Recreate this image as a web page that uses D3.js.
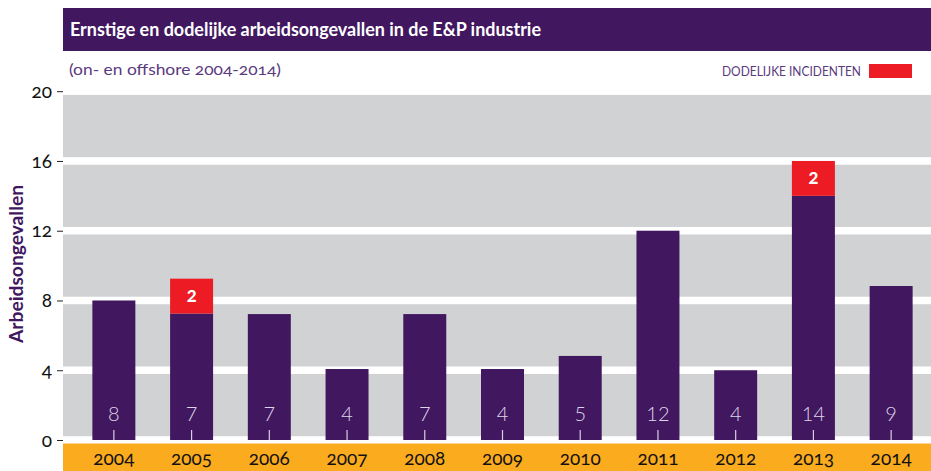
<!DOCTYPE html>
<html>
<head>
<meta charset="utf-8">
<script src="https://cdn.jsdelivr.net/npm/d3@7"></script>
<style>
  body { margin: 0; background: #fff; }
  svg { display: block; font-family: Lato, "Open Sans", sans-serif; }
  .num { font-variant-numeric: oldstyle-nums; font-feature-settings: "onum"; }
</style>
</head>
<body>
<svg id="chart" width="931" height="471"></svg>
<script>
// data
var years    = ["2004","2005","2006","2007","2008","2009","2010","2011","2012","2013","2014"];
var ernstig  = [8, 7.25, 7.22, 4.07, 7.22, 4.07, 4.82, 12, 4, 14, 8.83];   // bar height (purple)
var labels   = ["8","7","7","4","7","4","5","12","4","14","9"];          // printed number in bar
var dodelijk = [0, 2, 0, 0, 0, 0, 0, 0, 0, 2, 0];                         // red part
var yTicks   = [0, 4, 8, 12, 16, 20];

var purple = "#41175f", red = "#ed1c24", grey = "#d1d2d4", orange = "#fbab1e";

const svg = d3.select("#chart"),
      left = 63, right = 931,
      x = d3.scaleBand().domain(years).range([75, 930]).paddingInner(0.447).paddingOuter(0.2235),
      y = d3.scaleLinear().domain([0, 20]).range([440, 91.2]);

var data = years.map(function(d, i){
    return {year: d, ernstig: ernstig[i], label: labels[i], dodelijk: dodelijk[i]};
});

// title bar
svg.append("rect").attr("x", left).attr("y", 8).attr("width", right - left).attr("height", 43).attr("fill", purple);
svg.append("text")
    .attr("x", 70).attr("y", 36)
    .attr("fill", "#fff").style("font-size", "18px").style("font-weight", "bold")
    .attr("textLength", 471).attr("lengthAdjust", "spacingAndGlyphs")
    .text("Ernstige en dodelijke arbeidsongevallen in de E&P industrie");

// subtitle
svg.append("text")
    .attr("x", 69).attr("y", 75).attr("class", "num")
    .attr("fill", "#5a3a7e").style("font-size", "16px")
    .attr("textLength", 212).attr("lengthAdjust", "spacingAndGlyphs")
    .text("(on- en offshore 2004-2014)");

// legend
svg.append("text")
    .attr("x", 861).attr("y", 76).attr("text-anchor", "end")
    .attr("fill", "#5a3a7e").style("font-size", "12.5px")
    .attr("textLength", 139).attr("lengthAdjust", "spacingAndGlyphs")
    .text("DODELIJKE INCIDENTEN");
svg.append("rect").attr("x", 869).attr("y", 64).attr("width", 43).attr("height", 14).attr("fill", red);

// plot background with white grid stripes
svg.append("rect").attr("x", left).attr("y", y(20)).attr("width", right - left).attr("height", y(0) - y(20)).attr("fill", grey);
svg.selectAll(".stripe")
  .data(yTicks)
  .enter().append("rect")
    .attr("class", "stripe")
    .attr("x", left).attr("width", right - left)
    .attr("y", d => y(d) - 3.75).attr("height", 7.5)
    .attr("fill", "#fff");

// orange band for the years
svg.append("rect").attr("x", left).attr("y", y(0) + 3.5).attr("width", right - left).attr("height", 471 - y(0) - 3.5).attr("fill", orange);

// bars
svg.selectAll(".bar")
  .data(data)
  .enter().append("rect")
    .attr("class", "bar")
    .attr("x", d => x(d.year))
    .attr("y", d => y(d.ernstig))
    .attr("width", x.bandwidth())
    .attr("height", d => y(0) - y(d.ernstig))
    .attr("fill", purple);

var dead = data.filter(d => d.dodelijk > 0);
svg.selectAll(".dead")
  .data(dead)
  .enter().append("rect")
    .attr("class", "dead")
    .attr("x", d => x(d.year))
    .attr("y", d => y(d.ernstig + d.dodelijk))
    .attr("width", x.bandwidth())
    .attr("height", d => y(d.ernstig) - y(d.ernstig + d.dodelijk))
    .attr("fill", red);
svg.selectAll(".deadlabel")
  .data(dead)
  .enter().append("text")
    .attr("class", "deadlabel")
    .attr("x", d => x(d.year) + x.bandwidth() / 2)
    .attr("y", d => (y(d.ernstig) + y(d.ernstig + d.dodelijk)) / 2 + 6)
    .attr("text-anchor", "middle").attr("fill", "#fff")
    .style("font-size", "17px").style("font-weight", "900")
    .text(d => d.dodelijk);

// small marks and numbers inside the bars
svg.selectAll(".mark")
  .data(data)
  .enter().append("line")
    .attr("class", "mark")
    .attr("x1", d => x(d.year) + x.bandwidth() / 2).attr("x2", d => x(d.year) + x.bandwidth() / 2)
    .attr("y1", y(0) - 10).attr("y2", y(0))
    .attr("stroke", "#d8cfe4").attr("stroke-width", 1.2);
svg.selectAll(".val")
  .data(data)
  .enter().append("text")
    .attr("class", "val")
    .attr("x", d => x(d.year) + x.bandwidth() / 2)
    .attr("y", 421)
    .attr("text-anchor", "middle").attr("fill", "#ddd5e8")
    .style("font-size", "20px").style("font-weight", "300")
    .text(d => d.label);

// y axis
var yAxis = svg.append("g")
    .attr("transform", `translate(${left},0)`)
    .call(d3.axisLeft(y).tickValues(yTicks).tickSize(6).tickPadding(5));
yAxis.select(".domain").remove();
yAxis.selectAll("line").attr("stroke", "#222");
yAxis.selectAll("text").attr("class", "num").attr("fill", "#111").style("font-size", "19px").style("font-family", "Lato, sans-serif");

svg.append("text")
    .attr("transform", "translate(23,264) rotate(-90)")
    .attr("text-anchor", "middle").attr("fill", purple)
    .style("font-size", "18px").style("font-weight", "bold")
    .attr("textLength", 158).attr("lengthAdjust", "spacingAndGlyphs")
    .text("Arbeidsongevallen");

// x axis (years)
var xAxis = svg.append("g")
    .attr("transform", `translate(0,${y(0)})`)
    .call(d3.axisBottom(x).tickSize(0));
xAxis.select(".domain").remove();
xAxis.selectAll("text")
    .attr("class", "num").attr("y", 25).attr("dy", 0)
    .attr("fill", "#111").style("font-size", "19px").style("font-family", "Lato, sans-serif");
</script>
</body>
</html>
